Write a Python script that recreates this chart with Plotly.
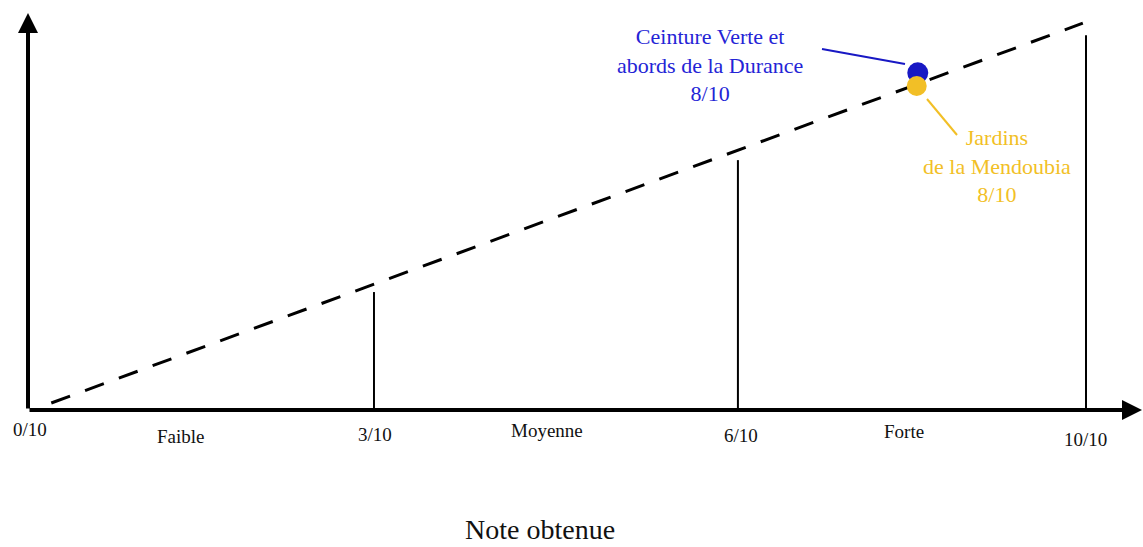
import plotly.graph_objects as go

# ---------------- data ----------------
tick_labels = ["0/10", "3/10", "6/10", "10/10"]
tick_pos = [0.0, 3.27, 6.71, 10.0]          # drawn positions on the note axis
level_labels = ["Faible", "Moyenne", "Forte"]
level_pos = [1.45, 4.91, 8.28]
bar_pos = [3.27, 6.71, 10.0]
bar_heights = [3.04, 6.44, 9.66]
ref_line_x = [0.22, 9.97]
ref_line_y = [0.18, 9.97]
site_names = ["Ceinture Verte et<br>abords de la Durance<br>8/10",
              "Jardins<br>de la Mendoubia<br>8/10"]
site_x = [8.41, 8.40]
site_y = [8.69, 8.35]
site_colors = ["#1818c4", "#f2bf26"]
text_colors = ["#2424d6", "#f2bf26"]
axis_title = "Note obtenue"

# ---------------- layout helpers ----------------
W, H = 1143, 547
PX_X0, PX_X10 = 28, 1086
PX_Y0, PX_Y10 = 410, 22
SX = (PX_X10 - PX_X0) / 10.0
SY = (PX_Y0 - PX_Y10) / 10.0


def px2x(px):
    return (px - PX_X0) / SX


def px2y(py):
    return (PX_Y0 - py) / SY


FONT = "Liberation Serif, Times New Roman, serif"

fig = go.Figure()

# dashed reference line
fig.add_trace(go.Scatter(x=ref_line_x, y=ref_line_y, mode="lines",
                         line=dict(color="black", width=3, dash="20px,16px"),
                         hoverinfo="skip", showlegend=False))

# vertical threshold lines
vx, vy = [], []
for p, h in zip(bar_pos, bar_heights):
    vx += [p, p, None]
    vy += [0, h, None]
fig.add_trace(go.Scatter(x=vx, y=vy, mode="lines",
                         line=dict(color="black", width=2),
                         hoverinfo="skip", showlegend=False))

# leader lines
fig.add_trace(go.Scatter(x=[px2x(822), px2x(905)], y=[px2y(49), px2y(64)], mode="lines",
                         line=dict(color=site_colors[0], width=2),
                         hoverinfo="skip", showlegend=False))
fig.add_trace(go.Scatter(x=[px2x(927), px2x(957)], y=[px2y(99), px2y(135)], mode="lines",
                         line=dict(color=site_colors[1], width=2),
                         hoverinfo="skip", showlegend=False))

# points
for i in range(len(site_x)):
    fig.add_trace(go.Scatter(x=[site_x[i]], y=[site_y[i]], mode="markers",
                             marker=dict(color=site_colors[i], size=21 if i == 0 else 20,
                                         line=dict(width=0)),
                             cliponaxis=False, hoverinfo="skip", showlegend=False))

annotations = []
# axes with arrows
annotations.append(dict(x=0, y=px2y(13), ax=0, ay=0, xref="x", yref="y", axref="x", ayref="y",
                        showarrow=True, arrowhead=2, arrowwidth=4, arrowsize=1.0,
                        arrowcolor="black", text=""))
annotations.append(dict(x=px2x(1142), y=0, ax=0, ay=0, xref="x", yref="y", axref="x", ayref="y",
                        showarrow=True, arrowhead=2, arrowwidth=4, arrowsize=1.0,
                        arrowcolor="black", text=""))

# tick labels
tick_y_px = [429, 434, 435, 439]
tick_dx_px = [1.5, 1, 3, -1]
for lab, p, ty, dx in zip(tick_labels, tick_pos, tick_y_px, tick_dx_px):
    annotations.append(dict(x=p + dx / SX, y=px2y(ty), text=lab, showarrow=False,
                            xanchor="center", yanchor="middle",
                            font=dict(family=FONT, size=19, color="#111111")))
level_y_px = [436, 430, 431]
for lab, p, ty in zip(level_labels, level_pos, level_y_px):
    annotations.append(dict(x=p, y=px2y(ty), text=lab, showarrow=False,
                            xanchor="center", yanchor="middle",
                            font=dict(family=FONT, size=19, color="#111111")))

# site labels
label_cx = [710, 997]
label_cy = [65, 166]
for i in range(len(site_names)):
    annotations.append(dict(x=px2x(label_cx[i]), y=px2y(label_cy[i]), text=site_names[i],
                            showarrow=False, xanchor="center", yanchor="middle", align="center",
                            font=dict(family=FONT, size=22, color=text_colors[i])))

# axis title
annotations.append(dict(x=px2x(540), y=px2y(529), text=axis_title, showarrow=False,
                        xanchor="center", yanchor="middle",
                        font=dict(family=FONT, size=28, color="#111111")))

fig.update_layout(
    width=W, height=H, autosize=False,
    margin=dict(l=0, r=0, t=0, b=0),
    paper_bgcolor="white", plot_bgcolor="white",
    xaxis=dict(range=[px2x(0), px2x(W)], visible=False, fixedrange=True),
    yaxis=dict(range=[px2y(H), px2y(0)], visible=False, fixedrange=True),
    annotations=annotations,
    showlegend=False,
)

fig.write_html("out.html", config={"displayModeBar": False},
               post_script="document.body.style.margin='0';document.body.style.overflow='hidden';")
